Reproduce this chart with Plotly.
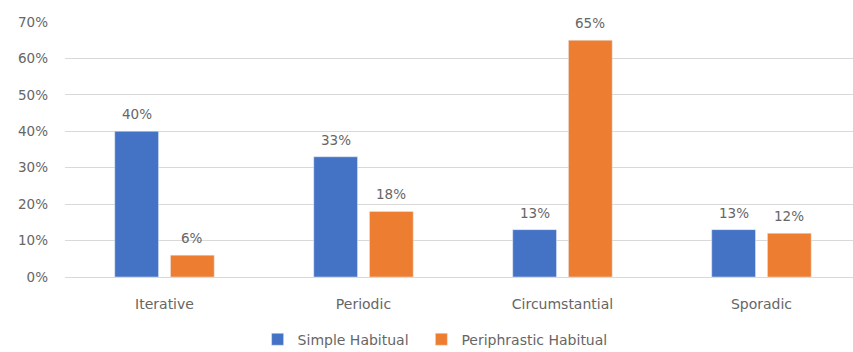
import plotly.graph_objects as go

categories = ["Iterative", "Periodic", "Circumstantial", "Sporadic"]
simple_habitual = [0.40, 0.33, 0.13, 0.13]
periphrastic_habitual = [0.06, 0.18, 0.65, 0.12]
tick_values = [0, 0.1, 0.2, 0.3, 0.4, 0.5, 0.6, 0.7]

text_color = "#666666"
font_family = "DejaVu Sans, Verdana, sans-serif"
font_size = 13.5

# bar geometry in category units: each bar 0.22 wide, 0.06 gap between the pair
bar_width = 0.22
half_gap = 0.03

series = [
    ("Simple Habitual", simple_habitual, "#4472C4", -half_gap - bar_width, "legend"),
    ("Periphrastic Habitual", periphrastic_habitual, "#ED7D31", half_gap, "legend2"),
]

fig = go.Figure()
annotations = []
for name, values, color, offset, legend_id in series:
    fig.add_trace(go.Bar(
        name=name, x=categories, y=values,
        marker_color=color, width=bar_width, offset=offset,
        legend=legend_id,
    ))
    for i, v in enumerate(values):
        annotations.append(dict(
            x=i + offset + bar_width / 2, y=v, xref="x", yref="y",
            text=f"{v:.0%}", showarrow=False,
            yanchor="middle", yshift=17,
            font=dict(family=font_family, size=font_size, color=text_color),
        ))

legend_style = dict(orientation="h", xref="container", yref="container",
                    xanchor="left", y=0.035, yanchor="middle", itemwidth=30,
                    font=dict(family=font_family, size=14, color=text_color))

fig.update_layout(
    width=853, height=352,
    margin=dict(l=65, r=0, t=22, b=75, autoexpand=False),
    paper_bgcolor="white", plot_bgcolor="white",
    font=dict(family=font_family, color=text_color, size=font_size),
    barmode="overlay",
    showlegend=True,
    legend=dict(x=0.302, **legend_style),
    legend2=dict(x=0.494, **legend_style),
    yaxis=dict(range=[0, 0.7], tickvals=tick_values, tickformat=".0%",
               showgrid=True, gridcolor="#D9D9D9", gridwidth=1,
               zeroline=True, zerolinecolor="#D9D9D9", zerolinewidth=1,
               ticklabelstandoff=16, automargin=False),
    xaxis=dict(range=[-0.5, 3.46], showline=False, ticks="",
               ticklabelstandoff=17, automargin=False,
               tickfont=dict(family=font_family, size=14, color=text_color)),
    annotations=annotations,
)

fig.write_html("out.html")
